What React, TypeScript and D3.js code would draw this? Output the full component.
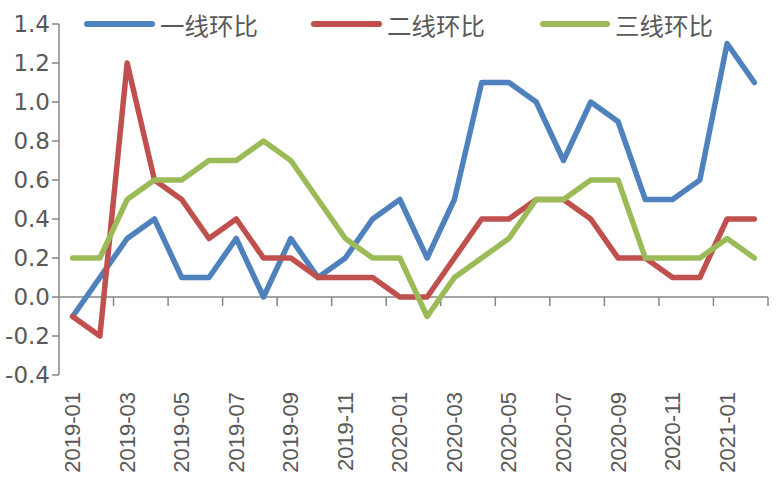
import React from "react";
import * as d3 from "d3";

const months = [
  "2019-01","2019-02","2019-03","2019-04","2019-05","2019-06","2019-07","2019-08","2019-09","2019-10","2019-11","2019-12",
  "2020-01","2020-02","2020-03","2020-04","2020-05","2020-06","2020-07","2020-08","2020-09","2020-10","2020-11","2020-12",
  "2021-01","2021-02",
];
const tier1 = [-0.1,0.1,0.3,0.4,0.1,0.1,0.3,0.0,0.3,0.1,0.2,0.4,0.5,0.2,0.5,1.1,1.1,1.0,0.7,1.0,0.9,0.5,0.5,0.6,1.3,1.1];
const tier2 = [-0.1,-0.2,1.2,0.6,0.5,0.3,0.4,0.2,0.2,0.1,0.1,0.1,0.0,0.0,0.2,0.4,0.4,0.5,0.5,0.4,0.2,0.2,0.1,0.1,0.4,0.4];
const tier3 = [0.2,0.2,0.5,0.6,0.6,0.7,0.7,0.8,0.7,0.5,0.3,0.2,0.2,-0.1,0.1,0.2,0.3,0.5,0.5,0.6,0.6,0.2,0.2,0.2,0.3,0.2];
const seriesNames = ["一线环比","二线环比","三线环比"];
const yTicks = [-0.4,-0.2,0.0,0.2,0.4,0.6,0.8,1.0,1.2,1.4];

const colors = ["#4F81BD","#C0504D","#9BBB59"];

export default function App() {
  const W = 776, H = 487;
  const x0 = 59, x1 = 768;
  const x = d3.scaleBand<string>().domain(months).range([x0, x1]).paddingInner(0).paddingOuter(0);
  const y = d3.scaleLinear().domain([-0.4, 1.4]).range([375, 24]);
  const cx = (m: string) => (x(m) as number) + x.bandwidth() / 2;
  const line = d3.line<number>().x((_, i) => cx(months[i])).y((v) => y(v));
  const series = [tier1, tier2, tier3];
  const axisColor = "#868686";
  const textColor = "#595959";
  const legend = [
    { lx1: 87, lx2: 152, tx: 160 },
    { lx1: 314, lx2: 379, tx: 387 },
    { lx1: 543, lx2: 607, tx: 615 },
  ];
  const boundaries = d3.range(2, months.length + 1, 2).map((i) => x0 + i * x.bandwidth());
  return (
    <svg width={W} height={H} style={{ position: "absolute", left: 0, top: 0, background: "#fff" }}>
      {/* y axis */}
      <line x1={x0} x2={x0} y1={y(1.4)} y2={y(-0.4)} stroke={axisColor} strokeWidth={1.5} />
      {yTicks.map((t) => (
        <g key={t}>
          <line x1={x0 - 7} x2={x0} y1={y(t)} y2={y(t)} stroke={axisColor} strokeWidth={1.5} />
          <text x={50} y={y(t)} textAnchor="end" dominantBaseline="central" fontFamily="DejaVu Sans" fontSize={23} fill={textColor}>
            {t.toFixed(1)}
          </text>
        </g>
      ))}
      {/* x axis */}
      <line x1={x0} x2={x1} y1={y(0)} y2={y(0)} stroke={axisColor} strokeWidth={1.5} />
      {boundaries.map((bx, i) => (
        <line key={i} x1={bx} x2={bx} y1={y(0)} y2={y(0) + 9} stroke={axisColor} strokeWidth={1.5} />
      ))}
      {months.map((m, i) =>
        i % 2 === 0 ? (
          <text
            key={m}
            transform={`translate(${cx(m)},392) rotate(-90)`}
            textAnchor="end"
            dominantBaseline="central"
            fontFamily="Liberation Sans"
            fontSize={22}
            fill={textColor}
          >
            {m}
          </text>
        ) : null
      )}
      {/* series */}
      {series.map((s, k) => (
        <path key={k} d={line(s) as string} fill="none" stroke={colors[k]} strokeWidth={5.5} strokeLinejoin="round" strokeLinecap="round" />
      ))}
      {/* legend */}
      {seriesNames.map((n, k) => (
        <g key={n}>
          <line x1={legend[k].lx1} x2={legend[k].lx2} y1={24} y2={24} stroke={colors[k]} strokeWidth={6} strokeLinecap="round" />
          <text x={legend[k].tx} y={24} dominantBaseline="central" fontFamily="Noto Sans CJK SC" fontSize={24} fill={textColor} textLength={98} lengthAdjust="spacingAndGlyphs">
            {n}
          </text>
        </g>
      ))}
    </svg>
  );
}
